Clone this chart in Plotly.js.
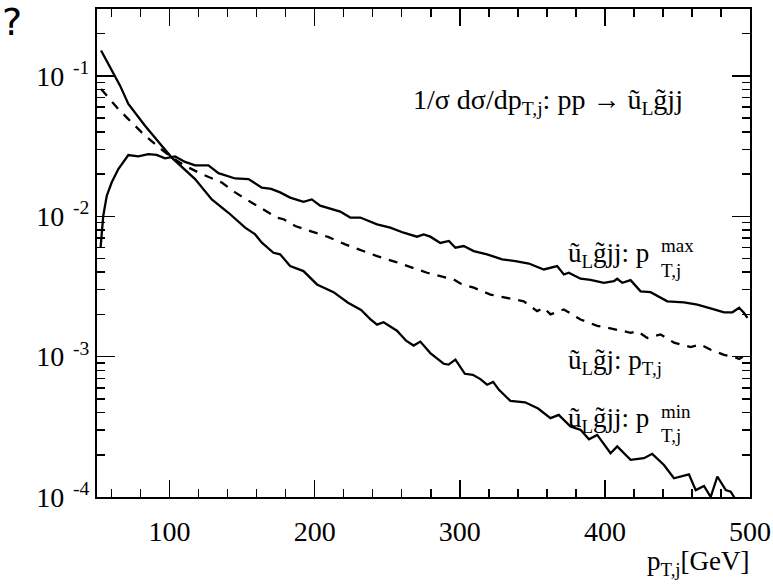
<!DOCTYPE html>
<html>
<head>
<meta charset="utf-8">
<script src="https://cdn.plot.ly/plotly-3.0.1.min.js"></script>
<style>html,body{margin:0;padding:0;background:#fff;}#chart{width:773px;height:585px;}</style>
</head>
<body>
<div id="chart"></div>
<script>
// pT,j in GeV and normalised distributions 1/sigma dsigma/dpT,j [1/GeV]
const minX = [52.8,65.9,71.6,83.1,94.6,101.5,117.6,129.1,140.6,152.1,159,163.6,171.6,176.2,183.1,192.3,201.6,213,223,232,238.3,243,247.5,256.7,263,268.2,272.8,279.7,288.9,292.3,297,303.5,309,314.2,318.8,323,327,334.9,345,354,362.5,368.2,376.3,383.2,389,394.7,403.9,408.5,417.7,426.9,432.6,440.7,447.6,457.9,462.6,468.3,472.9,477.5,483.3,486.7,489,492];
const minY = [0.152,0.0853,0.0631,0.0442,0.0318,0.0262,0.0184,0.0132,0.0106,0.0083,0.00743,0.00649,0.0055,0.00536,0.00442,0.00407,0.00327,0.00288,0.00242,0.00215,0.00185,0.00169,0.00176,0.00153,0.0013,0.0012,0.00128,0.00106,0.00089,0.000877,0.000953,0.000755,0.000743,0.000692,0.000631,0.000661,0.00058,0.000484,0.000473,0.000427,0.000365,0.000385,0.000318,0.000301,0.000258,0.000277,0.000205,0.000229,0.000184,0.000189,0.000203,0.000169,0.000136,0.000145,0.000112,0.00012,0.0001,0.00014,0.000112,0.000109,0.0001,0.000089];

const maxX = [52.5,54.3,56.7,60.1,64.7,71.6,78.5,85.4,91.1,96.9,103.8,110.7,117.6,126.8,133.7,145.2,154.4,163.6,170,176.2,183.1,192.3,198,203.8,217.6,224.5,231.4,243,252.1,261.3,270.5,275.1,279.7,286.6,292.5,297,302.7,309.6,318.8,329.2,338.4,347.6,357.9,367.1,371.7,375.1,383.2,390.1,399.3,406.2,408.5,412,417.7,424.6,431.5,443,454.5,463.7,475.2,482.1,487.9,492.5,495.9,498.2];
const maxY = [0.00603,0.01005,0.01396,0.0174,0.0217,0.0273,0.0267,0.0277,0.0274,0.0259,0.0267,0.0244,0.0231,0.0231,0.0203,0.0186,0.0184,0.016,0.0157,0.0148,0.0136,0.0127,0.0132,0.0119,0.0108,0.0098,0.0098,0.00877,0.0083,0.00764,0.00716,0.00743,0.00716,0.00646,0.00667,0.00597,0.00614,0.00565,0.00536,0.00493,0.0048,0.00461,0.00418,0.00442,0.00385,0.00396,0.00359,0.00353,0.00336,0.00345,0.00359,0.00336,0.00351,0.00292,0.00288,0.00248,0.00244,0.00235,0.00217,0.00207,0.00207,0.00223,0.00205,0.00189];

const oneX = [52.8,57.8,64.7,71.6,80.8,90,101.5,110.7,122.2,136,145.2,156.7,168.2,174,178.6,186.6,197,209.6,221.1,231.4,243,255.6,267.1,277.5,286.6,295.8,300.4,309.6,321.1,332.6,344.1,353.3,357.9,362.5,371.7,383.2,394.7,399.3,408.5,417.7,422.3,429.2,438.4,447.6,459.1,466,472.9,482.1,489,492.5,495];
const oneY = [0.0807,0.07,0.0581,0.0493,0.0396,0.0327,0.0262,0.0229,0.02,0.0174,0.0148,0.0125,0.0106,0.0098,0.00953,0.00853,0.00785,0.00711,0.00631,0.00574,0.0052,0.00474,0.0043,0.00396,0.00375,0.00355,0.00332,0.0031,0.00277,0.00262,0.00248,0.00211,0.00223,0.002,0.00217,0.00184,0.00166,0.00163,0.00156,0.00148,0.00152,0.00136,0.00144,0.00126,0.00117,0.00122,0.00112,0.00103,0.000995,0.000964,0.001];

const xTickVals = [100,200,300,400,500];
const xTickText = ["100","200","300","400","500"];
const yTickVals = [1e-4,1e-3,1e-2,1e-1];
const yTickText = ["10<sup>\u00a0\u2009-4</sup>","10<sup>\u00a0\u2009-3</sup>","10<sup>\u00a0\u2009-2</sup>","10<sup>\u00a0\u2009-1</sup>"];

const FONT = 'Liberation Serif, Times New Roman, serif';

const yMinor = [];
for (let e = -4; e <= -1; e++) for (let m = 2; m <= 9; m++) { const v = m*Math.pow(10,e); if (v < 0.31) yMinor.push(v); }

const traces = [
  {x: maxX, y: maxY, mode:'lines', line:{color:'#000', width:2.3}, name:'max'},
  {x: oneX, y: oneY, mode:'lines', line:{color:'#000', width:2.3, dash:'9px,8px'}, name:'one'},
  {x: minX, y: minY, mode:'lines', line:{color:'#000', width:2.3}, name:'min'}
];

const W = 773, H = 585, L = 97, R = 23, T = 9, B = 88;
const pw = W-L-R, ph = H-T-B;
function px(x){ return (x-L)/pw; }
function py(y){ return (H-B-y)/ph; }

function ann(text, x, y, xa, ya, size){
  return {text:text, xref:'paper', yref:'paper', x:px(x), y:py(y), xanchor:xa, yanchor:ya,
          showarrow:false, font:{family:FONT, size:size||27, color:'#000'}};
}

const annotations = [
  ann('1/σ dσ/dp<sub>T,j</sub>: pp → ũ<sub>L</sub>g̃jj', 411, 101, 'left', 'middle', 28),
  ann('ũ<sub>L</sub>g̃jj: p', 566, 255, 'left', 'middle'),
  ann('T,j', 659, 270, 'left', 'middle', 19),
  ann('max', 659, 246, 'left', 'middle', 19),
  ann('ũ<sub>L</sub>g̃j: p<sub>T,j</sub>', 566, 362, 'left', 'middle'),
  ann('ũ<sub>L</sub>g̃jj: p', 566, 420, 'left', 'middle'),
  ann('T,j', 659, 435, 'left', 'middle', 19),
  ann('min', 659, 411, 'left', 'middle', 19),
  ann('p<sub>T,j</sub>[GeV]', 752, 563, 'right', 'middle'),
  {text:'?', xref:'paper', yref:'paper', x:px(0), y:py(22), xanchor:'left', yanchor:'middle', showarrow:false,
   font:{family:'DejaVu Sans, sans-serif', size:38, color:'#000'}}
];

const layout = {
  width: W, height: H,
  margin: {l:L, r:R, t:T, b:B, pad:0},
  paper_bgcolor:'#fff', plot_bgcolor:'#fff',
  showlegend:false,
  font:{family:FONT, size:27, color:'#000'},
  xaxis:{
    range:[50,500], showgrid:false, zeroline:false,
    showline:true, linecolor:'#000', linewidth:2, mirror:'ticks',
    ticks:'inside', ticklen:17, tickwidth:1.5, tickcolor:'#000',
    tickmode:'array', tickvals:xTickVals, ticktext:xTickText,
    tickfont:{family:FONT, size:28, color:'#000'}, ticklabelstandoff:8,
    minor:{ticks:'inside', dtick:20, tick0:0, ticklen:8, tickwidth:1.5, tickcolor:'#000', showgrid:false}
  },
  yaxis:{
    type:'log', range:[-4, Math.log10(0.3)], showgrid:false, zeroline:false,
    showline:true, linecolor:'#000', linewidth:2, mirror:'ticks',
    ticks:'inside', ticklen:18, tickwidth:1.5, tickcolor:'#000',
    tickmode:'array', tickvals:yTickVals, ticktext:yTickText,
    tickfont:{family:FONT, size:28, color:'#000'},
    minor:{ticks:'inside', tickmode:'array', tickvals:yMinor, ticklen:8, tickwidth:1.5, tickcolor:'#000', showgrid:false}
  },
  annotations: annotations
};

Plotly.newPlot('chart', traces, layout, {staticPlot:true, displayModeBar:false});
</script>
</body>
</html>
